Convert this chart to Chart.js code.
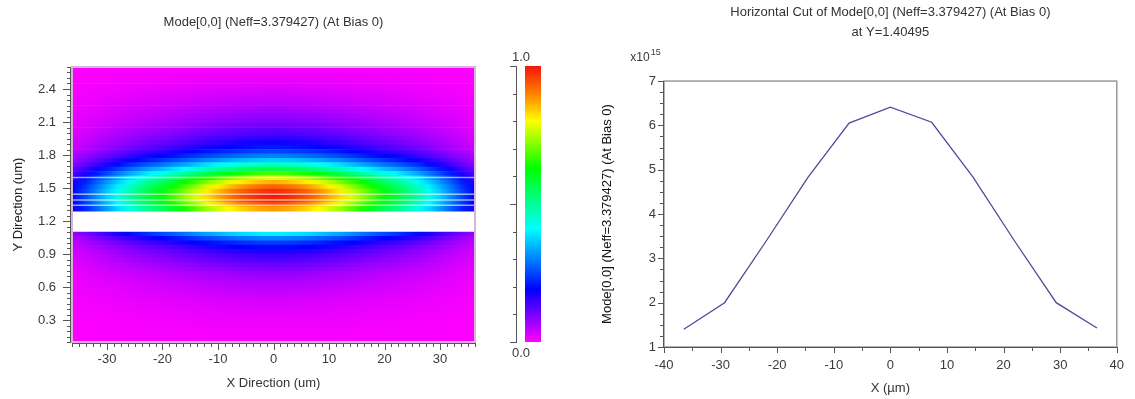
<!DOCTYPE html>
<html>
<head>
<meta charset="utf-8">
<script src="https://cdn.jsdelivr.net/npm/chart.js@4.4.1/dist/chart.umd.min.js"></script>
<style>
  html, body { margin: 0; padding: 0; background: #fff; }
  #quadro { position: relative; width: 1135px; height: 399px; overflow: hidden; }
  #quadro canvas { position: absolute; top: 0; }
</style>
</head>
<body>
<div id="quadro">
  <canvas id="mapa" width="500" height="399" style="left:0"></canvas>
  <canvas id="escala" width="41" height="399" style="left:500px"></canvas>
  <canvas id="corte" width="575" height="399" style="left:560px"></canvas>
</div>
<script>
// corte horizontal em Y=1.40495 (valores em x10^15)
const cutX = [-36.5, -29.3, -22.0, -14.6, -7.3, 0.0, 7.3, 14.6, 22.0, 29.3, 36.5];
const cutMode = [1.40, 2.00, 3.38, 4.82, 6.05, 6.41, 6.07, 4.83, 3.38, 2.00, 1.43];

const heatX = [-36, -34, -32, -30, -28, -26, -24, -22, -20, -18, -16, -14, -12, -10, -8, -6, -4, -2, 0,
               2, 4, 6, 8, 10, 12, 14, 16, 18, 20, 22, 24, 26, 28, 30, 32, 34, 36];
const heatXProfile = [0.20, 0.25, 0.31, 0.37, 0.43, 0.49, 0.54, 0.59, 0.63, 0.68, 0.73, 0.78, 0.83, 0.87, 0.91, 0.945, 0.97, 0.99, 1.0,
                      0.99, 0.97, 0.945, 0.91, 0.87, 0.83, 0.78, 0.73, 0.68, 0.63, 0.59, 0.54, 0.49, 0.43, 0.37, 0.31, 0.25, 0.20];

// abaixo da faixa branca (centros das linhas)
const heatYBelow = [0.12, 0.16, 0.20, 0.24, 0.28, 0.32, 0.36, 0.40, 0.44, 0.48, 0.52, 0.56, 0.60,
                    0.64, 0.68, 0.72, 0.76, 0.80, 0.84, 0.88, 0.92, 0.96, 1.00, 1.04, 1.08];
const heatProfileBelow = [0.004, 0.006, 0.008, 0.010, 0.012, 0.015, 0.019, 0.023, 0.027, 0.032, 0.038, 0.045, 0.052,
                          0.060, 0.069, 0.080, 0.095, 0.112, 0.130, 0.150, 0.170, 0.200, 0.240, 0.305, 0.40];

// acima da faixa branca (centros das linhas)
const heatYAbove = [1.31, 1.35, 1.39, 1.43, 1.47, 1.51, 1.55, 1.59, 1.63, 1.67, 1.71,
                    1.75, 1.79, 1.83, 1.87, 1.91, 1.95, 1.99, 2.03, 2.07, 2.11, 2.15,
                    2.19, 2.23, 2.27, 2.31, 2.35, 2.39, 2.43, 2.47, 2.51, 2.55, 2.59];
const heatProfileAbove = [0.88, 0.95, 0.99, 1.00, 0.98, 0.93, 0.86, 0.78, 0.68, 0.57, 0.46,
                          0.37, 0.30, 0.25, 0.21, 0.18, 0.155, 0.135, 0.12, 0.105, 0.09,
                          0.08, 0.07, 0.06, 0.05, 0.042, 0.035, 0.028, 0.022, 0.017, 0.013,
                          0.009, 0.006];

// interfaces das camadas (linhas brancas)
const layerY = [1.595, 1.443, 1.391, 1.343];

// ticks
const mapXTicks = [-30, -20, -10, 0, 10, 20, 30];
const mapYTicks = [0.3, 0.6, 0.9, 1.2, 1.5, 1.8, 2.1, 2.4];
const scaleTicks = [0, 0.5, 1];
const cutXTicks = [-40, -30, -20, -10, 0, 10, 20, 30, 40];
const cutYTicks = [1, 2, 3, 4, 5, 6, 7];

const paleta = [
    [0.00, [255, 0, 255]],
    [0.19, [0, 0, 255]],
    [0.41, [0, 255, 255]],
    [0.63, [0, 255, 0]],
    [0.80, [255, 255, 0]],
    [0.90, [255, 128, 0]],
    [1.00, [245, 20, 10]]
];

const FONTE = "'Liberation Sans', Arial, sans-serif";
Chart.defaults.font.family = FONTE;
Chart.defaults.font.size = 13;
Chart.defaults.color = '#3a3a3a';

function corMapa(v) {
    v = Math.max(0, Math.min(1, v));
    for (let k = 1; k < paleta.length; k++) {
        const [t0, c0] = paleta[k - 1];
        const [t1, c1] = paleta[k];
        if (v <= t1) {
            const f = (v - t0) / (t1 - t0);
            const c = c0.map((a, i) => Math.round(a + (c1[i] - a) * f));
            return `rgb(${c[0]},${c[1]},${c[2]})`;
        }
    }
    return 'rgb(245,20,10)';
}

// marcas de eixo (maiores e menores) + moldura + textos soltos
const marcasEixo = {
    id: 'marcasEixo',
    afterDatasetsDraw(chart, args, opts) {
        const { ctx, chartArea: a } = chart;
        ctx.save();
        if (opts.moldura) {
            ctx.strokeStyle = opts.moldura.cor;
            ctx.lineWidth = opts.moldura.largura;
            ctx.strokeRect(a.left, a.top, a.right - a.left, a.bottom - a.top);
        }
        (opts.eixos || []).forEach(e => {
            const s = chart.scales[e.id];
            const recuo = e.recuo || 0;
            ctx.strokeStyle = e.cor;
            ctx.lineWidth = 1;
            ctx.beginPath();
            for (let k = Math.ceil(s.min / e.passo - 1e-6); k * e.passo <= s.max + 1e-6; k++) {
                const v = k * e.passo;
                const maior = e.maiores.some(m => Math.abs(m - v) < 1e-6);
                const len = maior ? e.longo : e.curto;
                const p = Math.round(s.getPixelForValue(v)) + 0.5;
                if (s.isHorizontal()) {
                    const y0 = a.bottom + recuo;
                    ctx.moveTo(p, y0);
                    ctx.lineTo(p, y0 + len);
                } else {
                    const x0 = a.left - recuo;
                    ctx.moveTo(x0, p);
                    ctx.lineTo(x0 - len, p);
                }
            }
            if (e.linha) {
                if (s.isHorizontal()) {
                    ctx.moveTo(a.left, a.bottom + recuo + 0.5);
                    ctx.lineTo(a.right, a.bottom + recuo + 0.5);
                } else {
                    ctx.moveTo(a.left - recuo - 0.5, a.top);
                    ctx.lineTo(a.left - recuo - 0.5, a.bottom);
                }
            }
            ctx.stroke();
        });
        (opts.textos || []).forEach(t => {
            const y = (t.base === 'bottom' ? a.bottom : a.top) + t.dy;
            ctx.fillStyle = '#3a3a3a';
            ctx.font = `${t.tamanho || 13}px ${FONTE}`;
            ctx.textAlign = 'center';
            ctx.textBaseline = 'middle';
            ctx.fillText(t.texto, a.left + t.dx, y);
            if (t.sobrescrito) {
                const w = ctx.measureText(t.texto).width;
                ctx.font = `9px ${FONTE}`;
                ctx.textAlign = 'left';
                ctx.fillText(t.sobrescrito, a.left + t.dx + w / 2 + 1, y - 6);
            }
        });
        ctx.restore();
    }
};

// cada linha do mapa e uma barra horizontal com gradiente ao longo de X
function gradienteLinha(c) {
    const chart = c.chart;
    if (!chart.chartArea || c.dataset.perfilY === undefined) return 'rgba(0,0,0,0)';
    const s = chart.scales.x;
    const xa = heatX[0], xb = heatX[heatX.length - 1];
    const g = chart.ctx.createLinearGradient(s.getPixelForValue(xa), 0, s.getPixelForValue(xb), 0);
    heatX.forEach((x, i) => {
        g.addColorStop((x - xa) / (xb - xa), corMapa(heatXProfile[i] * c.dataset.perfilY));
    });
    return g;
}

function linhasMapa(centros, perfil) {
    return perfil.map((p, j) => ({
        type: 'bar',
        perfilY: p,
        data: [{ x: [-36.3, 36.3], y: centros[j] }],
        backgroundColor: gradienteLinha,
        borderWidth: 0,
        grouped: false,
        barPercentage: 1,
        categoryPercentage: 1,
        clip: 0
    }));
}

const datasetsMapa = [
    ...layerY.map(y => ({
        type: 'line',
        indexAxis: 'x',
        data: [{ x: -36.3, y: y }, { x: 36.3, y: y }],
        borderColor: 'rgba(255,255,255,0.6)',
        borderWidth: 1.4,
        pointRadius: 0,
        order: -1
    })),
    ...linhasMapa(heatYBelow, heatProfileBelow),
    ...linhasMapa(heatYAbove, heatProfileAbove)
];

new Chart(document.getElementById('mapa'), {
    type: 'bar',
    data: { datasets: datasetsMapa },
    options: {
        indexAxis: 'y',
        responsive: false,
        animation: false,
        layout: { padding: { left: 0, right: 25, top: 0, bottom: 0 } },
        plugins: {
            legend: { display: false },
            tooltip: { enabled: false },
            title: {
                display: true,
                fullSize: false,
                text: 'Mode[0,0] (Neff=3.379427) (At Bias 0)',
                color: '#333',
                font: { size: 13, weight: 'normal' },
                padding: { top: 14.2, bottom: 37.2 }
            },
            marcasEixo: {
                moldura: { cor: '#d6b4dc', largura: 2 },
                eixos: [
                    { id: 'x', maiores: mapXTicks, passo: 1.25, longo: 7, curto: 4, cor: '#555', recuo: 1, linha: true },
                    { id: 'y', maiores: mapYTicks, passo: 0.05, longo: 8, curto: 4, cor: '#555', recuo: 1, linha: true }
                ]
            }
        },
        scales: {
            x: {
                type: 'linear',
                min: -36.3,
                max: 36.3,
                offset: false,
                afterBuildTicks: s => { s.ticks = mapXTicks.map(v => ({ value: v })); },
                afterFit: s => { s.height = 57; },
                grid: { display: false, drawTicks: false },
                border: { display: false },
                ticks: { padding: 10, autoSkip: false, maxRotation: 0, callback: v => String(v) },
                title: { display: true, text: 'X Direction (um)', color: '#333', padding: { top: 0, bottom: 8.2 } }
            },
            y: {
                type: 'linear',
                min: 0.1,
                max: 2.6,
                offset: false,
                afterBuildTicks: s => { s.ticks = mapYTicks.map(v => ({ value: v })); },
                afterFit: s => { s.width = 72; },
                grid: { display: false, drawTicks: false },
                border: { display: false },
                ticks: { padding: 16, autoSkip: false, callback: v => v.toFixed(1) },
                title: { display: true, text: 'Y Direction (um)', color: '#222', padding: { top: 10.2, bottom: 0 } }
            }
        }
    },
    plugins: [marcasEixo]
});

// barra de cores
new Chart(document.getElementById('escala'), {
    type: 'bar',
    data: {
        labels: ['escala'],
        datasets: [{
            data: [[0, 1]],
            backgroundColor: (c) => {
                const { chart } = c;
                if (!chart.chartArea) return '#fff';
                const s = chart.scales.y;
                const g = chart.ctx.createLinearGradient(0, s.getPixelForValue(0), 0, s.getPixelForValue(1));
                paleta.forEach(([t, cor]) => g.addColorStop(t, `rgb(${cor[0]},${cor[1]},${cor[2]})`));
                return g;
            },
            borderWidth: 0,
            barPercentage: 1,
            categoryPercentage: 1
        }]
    },
    options: {
        responsive: false,
        animation: false,
        layout: { padding: { left: 25, right: 0, top: 66, bottom: 57 } },
        plugins: {
            legend: { display: false },
            tooltip: { enabled: false },
            marcasEixo: {
                eixos: [
                    { id: 'y', maiores: scaleTicks, passo: 0.1, longo: 7, curto: 4, cor: '#555', recuo: 8, linha: true }
                ],
                textos: [
                    { texto: '1.0', dx: -4, dy: -9, base: 'top' },
                    { texto: '0.0', dx: -4, dy: 11, base: 'bottom' }
                ]
            }
        },
        scales: {
            x: { display: false, offset: true },
            y: { display: false, min: 0, max: 1 }
        }
    },
    plugins: [marcasEixo]
});

// corte horizontal
new Chart(document.getElementById('corte'), {
    type: 'line',
    data: {
        datasets: [{
            data: cutX.map((x, i) => ({ x: x, y: cutMode[i] })),
            borderColor: '#4b4b9e',
            borderWidth: 1.3,
            pointRadius: 0,
            tension: 0,
            fill: false
        }]
    },
    options: {
        responsive: false,
        animation: false,
        layout: { padding: { left: 0, right: 15, top: 0, bottom: 0 } },
        plugins: {
            legend: { display: false },
            tooltip: { enabled: false },
            title: {
                display: true,
                fullSize: false,
                text: ['Horizontal Cut of Mode[0,0] (Neff=3.379427) (At Bias 0)', 'at Y=1.40495'],
                color: '#333',
                font: { size: 13, weight: 'normal', lineHeight: 1.54 },
                padding: { top: 2, bottom: 39 }
            },
            marcasEixo: {
                moldura: { cor: '#9a9a9a', largura: 1.5 },
                eixos: [
                    { id: 'x', maiores: cutXTicks, passo: 5, longo: 6, curto: 4, cor: '#555', linha: true },
                    { id: 'y', maiores: cutYTicks, passo: 0.25, longo: 6, curto: 4, cor: '#555', linha: true }
                ],
                textos: [
                    { texto: 'x10', dx: -24, dy: -23, base: 'top', tamanho: 12, sobrescrito: '15' }
                ]
            }
        },
        scales: {
            x: {
                type: 'linear',
                min: -40,
                max: 40,
                afterBuildTicks: s => { s.ticks = cutXTicks.map(v => ({ value: v })); },
                afterFit: s => { s.height = 52; },
                grid: { display: false, drawTicks: false },
                border: { display: false },
                ticks: { padding: 11, autoSkip: false, maxRotation: 0, callback: v => String(v) },
                title: { display: true, text: 'X (µm)', color: '#333', padding: { top: 0, bottom: 3.2 } }
            },
            y: {
                type: 'linear',
                min: 1,
                max: 7,
                afterBuildTicks: s => { s.ticks = cutYTicks.map(v => ({ value: v })); },
                afterFit: s => { s.width = 104; },
                grid: { display: false, drawTicks: false },
                border: { display: false },
                ticks: { padding: 8, autoSkip: false, callback: v => String(v) },
                title: { display: true, text: 'Mode[0,0] (Neff=3.379427) (At Bias 0)', color: '#111', padding: { top: 39.2, bottom: 0 } }
            }
        }
    },
    plugins: [marcasEixo]
});
</script>
</body>
</html>
